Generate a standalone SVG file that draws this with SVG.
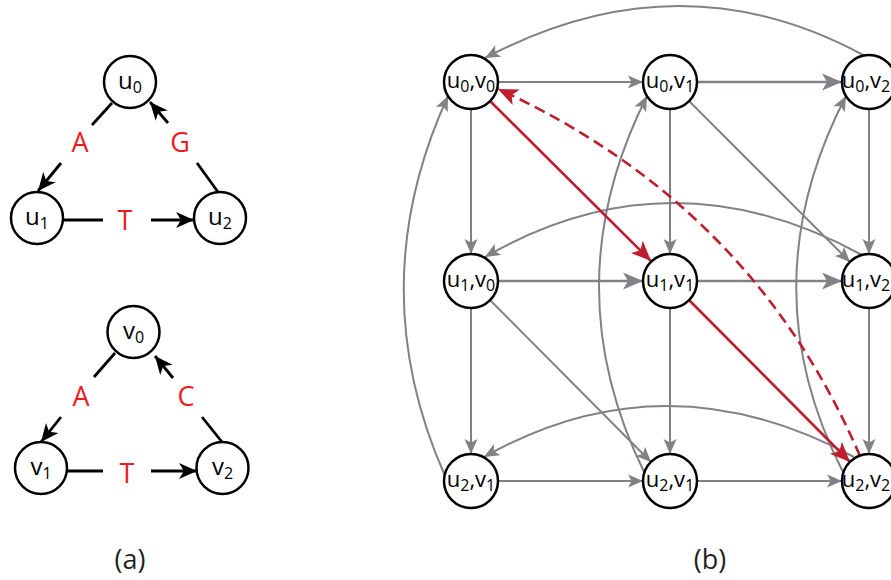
<svg xmlns="http://www.w3.org/2000/svg" width="891" height="580" viewBox="0 0 891 580">
  <style>
    .node circle { fill: #ffffff; stroke: #000000; stroke-width: 2.5; }
    .node text { font-family: "Open Sans", "Liberation Sans", sans-serif; fill: #000000; text-anchor: middle; }
    .na text { font-size: 24px; }
    .nb text { font-size: 22px; }
    .sub { font-size: 16px; }
    .blk { fill: none; stroke: #000000; stroke-width: 2.8; }
    .gr { fill: none; stroke: #808285; stroke-width: 2; }
    .grt { fill: none; stroke: #808285; stroke-width: 2.6; }
    .rd { fill: none; stroke: #be1e2d; stroke-width: 2.6; }
    .rdd { fill: none; stroke: #be1e2d; stroke-width: 2.6; stroke-dasharray: 11 6; }
    .lbl { font-family: "Open Sans", "Liberation Sans", sans-serif; font-size: 27px; fill: #ed1c24; text-anchor: middle; }
    .cap { font-family: "Open Sans", "Liberation Sans", sans-serif; font-size: 27px; fill: #231f20; text-anchor: middle; }
  </style>
  <defs>
    <marker id="ab" viewBox="-19 -9 20 18" markerWidth="20" markerHeight="18" refX="0" refY="0" orient="auto" markerUnits="userSpaceOnUse">
      <path d="M0,0 L-18,-8 L-13,0 L-18,8 Z" fill="#000000"/>
    </marker>
    <marker id="ag" viewBox="-16 -8 17 16" markerWidth="17" markerHeight="16" refX="0" refY="0" orient="auto" markerUnits="userSpaceOnUse">
      <path d="M0,0 L-15,-6.5 L-11.5,0 L-15,6.5 Z" fill="#808285"/>
    </marker>
    <marker id="agl" viewBox="-21 -10 22 20" markerWidth="22" markerHeight="20" refX="0" refY="0" orient="auto" markerUnits="userSpaceOnUse">
      <path d="M0,0 L-20,-8.5 L-15,0 L-20,8.5 Z" fill="#808285"/>
    </marker>
    <marker id="ar" viewBox="-21 -10 22 20" markerWidth="22" markerHeight="20" refX="0" refY="0" orient="auto" markerUnits="userSpaceOnUse">
      <path d="M0,0 L-20,-8.5 L-15,0 L-20,8.5 Z" fill="#be1e2d"/>
    </marker>
  </defs>

  <!-- (a) connectors and edge labels -->
  <g id="connectors-a">
    <line class="blk" x1="112" y1="103" x2="92" y2="125"/>
    <line class="blk" x1="61" y1="163" x2="38" y2="191" marker-end="url(#ab)"/>
    <line class="blk" x1="218" y1="192" x2="197" y2="163"/>
    <line class="blk" x1="168" y1="123" x2="150" y2="102" marker-end="url(#ab)"/>
    <line class="blk" x1="63" y1="220" x2="103" y2="220"/>
    <line class="blk" x1="151" y1="220" x2="194" y2="220" marker-end="url(#ab)"/>

    <line class="blk" x1="115" y1="353" x2="94" y2="377"/>
    <line class="blk" x1="61" y1="417" x2="41" y2="442" marker-end="url(#ab)"/>
    <line class="blk" x1="222" y1="442" x2="202" y2="417"/>
    <line class="blk" x1="173" y1="378" x2="155" y2="356" marker-end="url(#ab)"/>
    <line class="blk" x1="67" y1="471" x2="103" y2="471"/>
    <line class="blk" x1="151" y1="471" x2="197" y2="471" marker-end="url(#ab)"/>
  </g>
  <g id="edge-labels-a">
    <text class="lbl" x="80" y="152">A</text>
    <text class="lbl" x="180" y="152">G</text>
    <text class="lbl" x="125" y="230">T</text>
    <text class="lbl" x="81" y="406">A</text>
    <text class="lbl" x="186" y="406">C</text>
    <text class="lbl" x="127" y="483">T</text>
  </g>

  <!-- (a) nodes -->
  <g id="u0" class="node na"><circle cx="130" cy="82" r="26"/><text x="130" y="89">u<tspan class="sub" dy="4">0</tspan></text></g>
  <g id="u1" class="node na"><circle cx="37" cy="218" r="26"/><text x="37" y="225">u<tspan class="sub" dy="4">1</tspan></text></g>
  <g id="u2" class="node na"><circle cx="220" cy="218" r="26"/><text x="220" y="225">u<tspan class="sub" dy="4">2</tspan></text></g>
  <g id="v0" class="node na"><circle cx="133.5" cy="332" r="26"/><text x="133.5" y="339">v<tspan class="sub" dy="4">0</tspan></text></g>
  <g id="v1" class="node na"><circle cx="41" cy="468" r="26"/><text x="41" y="475">v<tspan class="sub" dy="4">1</tspan></text></g>
  <g id="v2" class="node na"><circle cx="222.5" cy="468" r="26"/><text x="222.5" y="475">v<tspan class="sub" dy="4">2</tspan></text></g>

  <!-- (b) connectors -->
  <g id="connectors-b">
    <!-- row edges -->
    <line class="gr" x1="498" y1="82" x2="643" y2="82" marker-end="url(#ag)"/>
    <line class="grt" x1="697" y1="82" x2="842" y2="82" marker-end="url(#agl)"/>
    <line class="grt" x1="498" y1="281" x2="643" y2="281" marker-end="url(#agl)"/>
    <line class="grt" x1="697" y1="281" x2="842" y2="281" marker-end="url(#agl)"/>
    <line class="gr" x1="498" y1="481" x2="643" y2="481" marker-end="url(#ag)"/>
    <line class="gr" x1="697" y1="481" x2="842" y2="481" marker-end="url(#ag)"/>
    <!-- column edges -->
    <line class="gr" x1="471" y1="109" x2="471" y2="254" marker-end="url(#ag)"/>
    <line class="gr" x1="670" y1="109" x2="670" y2="254" marker-end="url(#ag)"/>
    <line class="gr" x1="869" y1="109" x2="869" y2="254" marker-end="url(#ag)"/>
    <line class="gr" x1="471" y1="308" x2="471" y2="454" marker-end="url(#ag)"/>
    <line class="gr" x1="670" y1="308" x2="670" y2="454" marker-end="url(#ag)"/>
    <line class="gr" x1="869" y1="308" x2="869" y2="454" marker-end="url(#ag)"/>
    <!-- diagonals -->
    <line class="gr" x1="689" y1="101" x2="850" y2="262" marker-end="url(#ag)"/>
    <line class="gr" x1="490" y1="300" x2="651" y2="462" marker-end="url(#ag)"/>
    <!-- wrap-around arcs, right to left -->
    <path class="gr" d="M865,56 Q680,-45 485,58" marker-end="url(#ag)"/>
    <path class="gr" d="M862,255 Q670,150 485,257" marker-end="url(#ag)"/>
    <path class="gr" d="M854,457 Q665,355 484,457" marker-end="url(#ag)"/>
    <!-- wrap-around arcs, bottom to top -->
    <path class="gr" d="M445,476 Q361,286 448,96" marker-end="url(#ag)"/>
    <path class="gr" d="M645,474 Q552,285 647,96" marker-end="url(#ag)"/>
    <path class="gr" d="M843,472 Q748,285 846,96" marker-end="url(#ag)"/>
    <!-- highlighted cycle -->
    <line class="rd" x1="490" y1="101" x2="651" y2="261" marker-end="url(#ar)"/>
    <line class="rd" x1="689" y1="300" x2="850" y2="462" marker-end="url(#ar)"/>
    <path class="rdd" d="M860,456 Q752,205 498,89" marker-end="url(#ar)"/>
  </g>

  <!-- (b) nodes -->
  <g id="n00" class="node nb"><circle cx="471" cy="82" r="27"/><text x="471" y="88">u<tspan class="sub" dy="4">0</tspan><tspan dy="-4">,v</tspan><tspan class="sub" dy="4">0</tspan></text></g>
  <g id="n01" class="node nb"><circle cx="670" cy="82" r="27"/><text x="670" y="88">u<tspan class="sub" dy="4">0</tspan><tspan dy="-4">,v</tspan><tspan class="sub" dy="4">1</tspan></text></g>
  <g id="n02" class="node nb"><circle cx="869" cy="82" r="27"/><text x="866" y="88">u<tspan class="sub" dy="4">0</tspan><tspan dy="-4">,v</tspan><tspan class="sub" dy="4">2</tspan></text></g>
  <g id="n10" class="node nb"><circle cx="471" cy="281" r="27"/><text x="471" y="287">u<tspan class="sub" dy="4">1</tspan><tspan dy="-4">,v</tspan><tspan class="sub" dy="4">0</tspan></text></g>
  <g id="n11" class="node nb"><circle cx="670" cy="281" r="27"/><text x="670" y="287">u<tspan class="sub" dy="4">1</tspan><tspan dy="-4">,v</tspan><tspan class="sub" dy="4">1</tspan></text></g>
  <g id="n12" class="node nb"><circle cx="869" cy="281" r="27"/><text x="866" y="287">u<tspan class="sub" dy="4">1</tspan><tspan dy="-4">,v</tspan><tspan class="sub" dy="4">2</tspan></text></g>
  <g id="n20" class="node nb"><circle cx="471" cy="481" r="27"/><text x="471" y="487">u<tspan class="sub" dy="4">2</tspan><tspan dy="-4">,v</tspan><tspan class="sub" dy="4">1</tspan></text></g>
  <g id="n21" class="node nb"><circle cx="670" cy="481" r="27"/><text x="670" y="487">u<tspan class="sub" dy="4">2</tspan><tspan dy="-4">,v</tspan><tspan class="sub" dy="4">1</tspan></text></g>
  <g id="n22" class="node nb"><circle cx="869" cy="481" r="27"/><text x="866" y="487">u<tspan class="sub" dy="4">2</tspan><tspan dy="-4">,v</tspan><tspan class="sub" dy="4">2</tspan></text></g>

  <!-- panel captions -->
  <text class="cap" x="130" y="569">(a)</text>
  <text class="cap" x="710" y="569">(b)</text>
</svg>
